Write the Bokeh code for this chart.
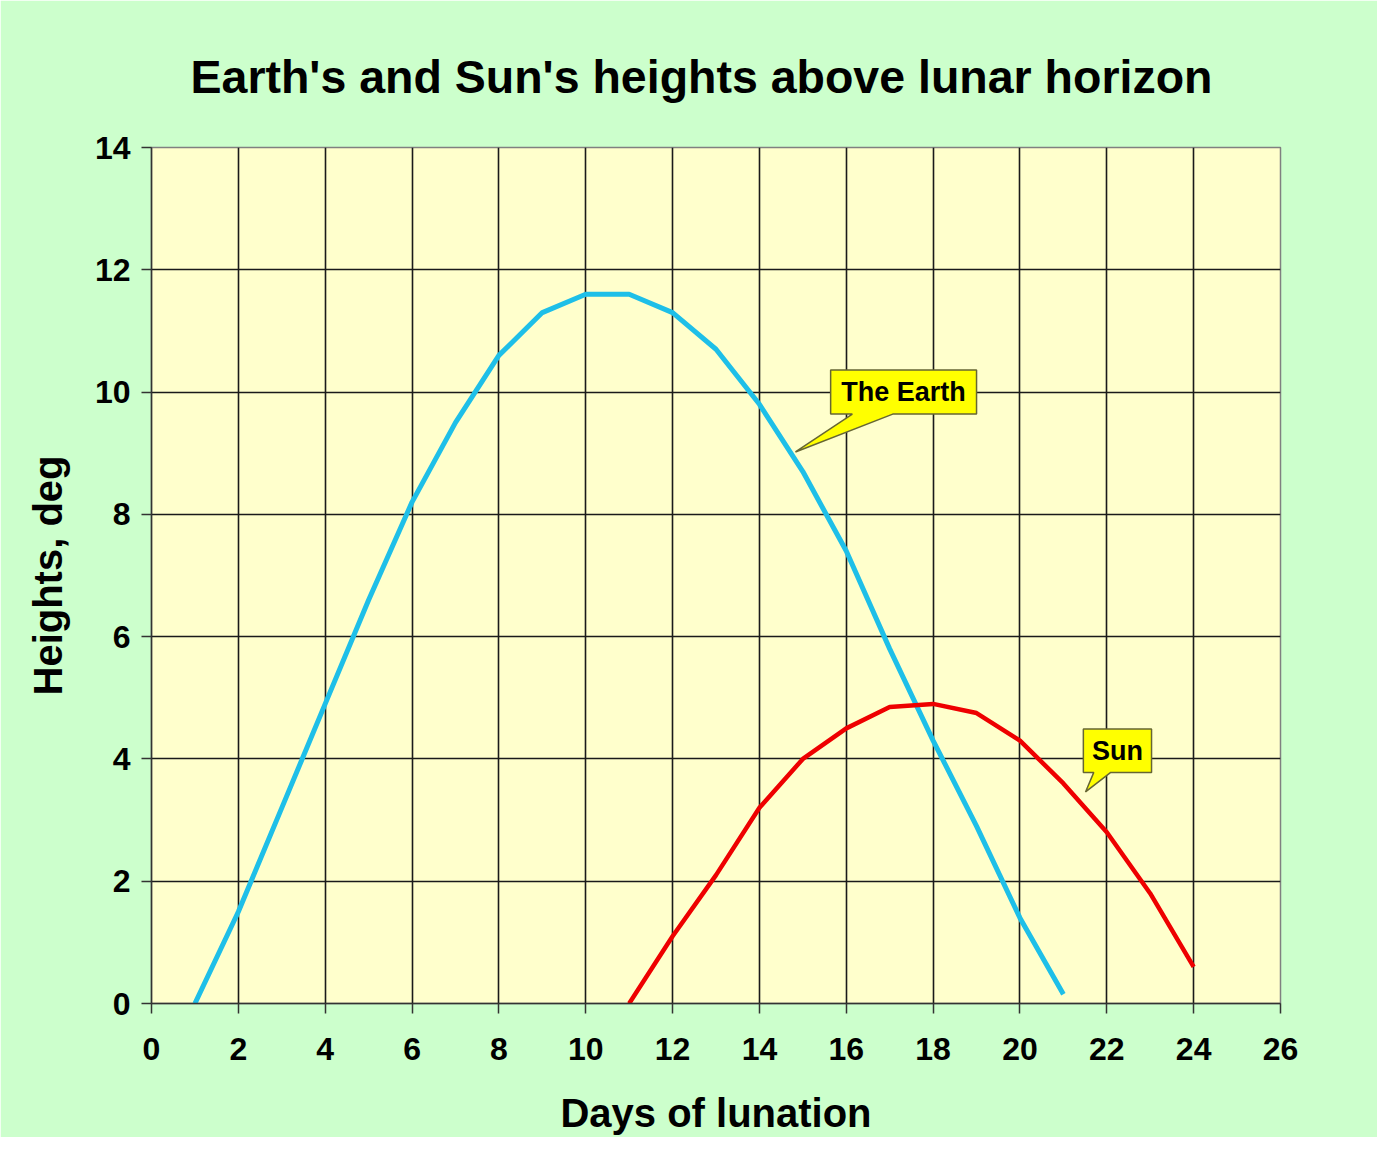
from bokeh.plotting import figure
from bokeh.embed import file_html
from bokeh.resources import INLINE
from bokeh.models import Range1d, FixedTicker
from bokeh.core.properties import value

# ---- data ----
earth_days = [1, 2, 3, 4, 5, 6, 7, 8, 9, 10, 11, 12, 13, 14, 15, 16, 17, 18, 19, 20, 21]
earth_heights = [0.0, 1.5, 3.2, 4.9, 6.6, 8.2, 9.5, 10.6, 11.3, 11.6, 11.6, 11.3, 10.7,
                 9.8, 8.7, 7.4, 5.8, 4.3, 2.9, 1.4, 0.15]
sun_days = [11, 12, 13, 14, 15, 16, 17, 18, 19, 20, 21, 22, 23, 24]
sun_heights = [0.0, 1.1, 2.1, 3.2, 4.0, 4.5, 4.85, 4.9, 4.75, 4.3, 3.6, 2.8, 1.8, 0.6]
x_ticks = list(range(0, 27, 2))
y_ticks = list(range(0, 15, 2))
labels = ["The Earth", "Sun"]

# callout geometry (annotation layout)
earth_box = dict(left=15.64, right=19.0, bottom=9.64, top=10.36, b0=16.14, b1=17.07, tx=14.83, ty=9.02)
sun_box = dict(left=21.46, right=23.03, bottom=3.78, top=4.49, b0=21.7, b1=22.09, tx=21.51, ty=3.46)

FONT = "Liberation Sans"

p = figure(width=1377, height=1137, output_backend="svg", toolbar_location=None,
           x_range=Range1d(0, 26), y_range=Range1d(0, 14),
           min_border_left=151, min_border_right=97, min_border_top=147, min_border_bottom=133)

p.background_fill_color = "#FFFFCC"
p.border_fill_color = "#CCFFCC"
p.outline_line_color = "#808080"
p.outline_line_width = 1.5

p.title.text = "Earth's and Sun's heights above lunar horizon"
p.title.text_font = FONT
p.title.text_font_size = "46.5px"
p.title.text_font_style = "bold"
p.title.align = "left"
p.title.text_color = "#000000"
p.title.standoff = 89
p.title.offset = 39

for ax, ticks in ((p.xaxis[0], x_ticks), (p.yaxis[0], y_ticks)):
    ax.ticker = FixedTicker(ticks=ticks)
    ax.major_label_text_font = FONT
    ax.major_label_text_font_size = "32px"
    ax.major_label_text_font_style = "bold"
    ax.major_label_text_color = "#000000"
    ax.axis_label_text_font = FONT
    ax.axis_label_text_font_size = "40px"
    ax.axis_label_text_font_style = "bold"
    ax.axis_label_text_color = "#000000"
    ax.axis_line_color = "#333333"
    ax.axis_line_width = 1.5
    ax.major_tick_line_color = "#333333"
    ax.major_tick_line_width = 1.5
    ax.major_tick_out = 10
    ax.major_tick_in = 0
    ax.minor_tick_line_color = None

p.xaxis.axis_label = "Days of lunation"
p.yaxis.axis_label = "Heights, deg"
p.xaxis.major_label_standoff = 24
p.xaxis.axis_label_standoff = 28
p.yaxis.major_label_standoff = 11
p.yaxis.axis_label_standoff = 22
p.yaxis.major_label_orientation = "horizontal"

p.xgrid.ticker = FixedTicker(ticks=x_ticks)
p.ygrid.ticker = FixedTicker(ticks=y_ticks)
for g in (p.xgrid[0], p.ygrid[0]):
    g.grid_line_color = "#1A1A1A"
    g.grid_line_width = 1.6

p.line(earth_days, earth_heights, line_color="#1EBFE8", line_width=5)
p.line(sun_days, sun_heights, line_color="#EE0000", line_width=4.5)

for b, lab in zip((earth_box, sun_box), labels):
    xs = [b["left"], b["right"], b["right"], b["b1"], b["tx"], b["b0"], b["left"]]
    ys = [b["top"], b["top"], b["bottom"], b["bottom"], b["ty"], b["bottom"], b["bottom"]]
    p.patch(xs, ys, fill_color="#FFFF00", line_color="#666633", line_width=1.5)
    p.text(x=[(b["left"] + b["right"]) / 2], y=[(b["top"] + b["bottom"]) / 2], text=[lab],
           text_font=value(FONT), text_font_size="27px", text_font_style="bold",
           text_align="center", text_baseline="middle", text_color="#000000")

open("out.html", "w").write(file_html(p, INLINE))
